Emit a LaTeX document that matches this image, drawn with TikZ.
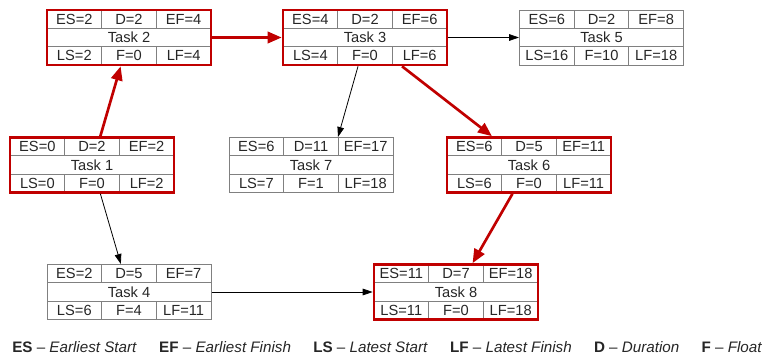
\documentclass[tikz,border=0pt]{standalone}
\usepackage{fontspec}
\setmainfont{Liberation Sans}
\usetikzlibrary{arrows.meta, positioning, calc, backgrounds}
\definecolor{critred}{HTML}{C00000}
\definecolor{boxgray}{HTML}{808080}
\tikzset{
    taskbox/.style={draw=boxgray, rectangle, line width=0.75pt, minimum width=123pt, minimum height=41.25pt, inner sep=0pt, font=\fontsize{11}{13}\selectfont, text=black!85},
    critical/.style={draw=critred, line width=2pt},
    normal/.style={},
    cell/.style={inner sep=0pt, font=\fontsize{11}{13}\selectfont, text=black!85},
    cellline/.style={draw=boxgray, line width=0.75pt},
    arrow/.style={draw, -{Triangle[length=7.5pt, width=5pt]}, line width=0.6pt, color=black},
    critarrow/.style={draw, -{Triangle[length=10.5pt, width=8.5pt]}, line width=2pt, color=critred},
    legend/.style={inner sep=0pt, font=\fontsize{11.4}{14}\selectfont, text=black!85}
}
% task box: style, number, centre, ES, D, EF, LS, F, LF
\newcommand{\pertbox}[9]{%
    \node [taskbox, #1] (t#2) at (#3) {Task #2};
    \begin{scope}[on background layer]
        \draw [cellline] ($(#3)+(-82,-9.17)$) -- ($(#3)+(82,-9.17)$);
        \draw [cellline] ($(#3)+(-82,9.17)$) -- ($(#3)+(82,9.17)$);
        \foreach \cx in {-27.33,27.33} {
            \draw [cellline] ($(#3)+(\cx,-27.5)$) -- ++(0,18.33);
            \draw [cellline] ($(#3)+(\cx,9.17)$) -- ++(0,18.33);
        }
    \end{scope}
    \node [cell] (t#2-es) at ($(#3)+(-54.67,-18.33)$) {ES=#4};
    \node [cell] (t#2-d)  at ($(#3)+(0,-18.33)$) {D=#5};
    \node [cell] (t#2-ef) at ($(#3)+(54.67,-18.33)$) {EF=#6};
    \node [cell] (t#2-ls) at ($(#3)+(-54.67,18.33)$) {LS=#7};
    \node [cell] (t#2-f)  at ($(#3)+(0,18.33)$) {F=#8};
    \node [cell] (t#2-lf) at ($(#3)+(54.67,18.33)$) {LF=#9};
}

\begin{document}
\begin{tikzpicture}[x=0.75pt, y=-0.75pt]
    \useasboundingbox (0,0) rectangle (764,357);

    \pertbox{critical}{1}{92,165}{0}{2}{2}{0}{0}{2}
    \pertbox{critical}{2}{129,37.5}{2}{2}{4}{2}{0}{4}
    \pertbox{critical}{3}{365,37.5}{4}{2}{6}{4}{0}{6}
    \pertbox{normal}{4}{129,292}{2}{5}{7}{6}{4}{11}
    \pertbox{normal}{5}{601.5,37.5}{6}{2}{8}{16}{10}{18}
    \pertbox{critical}{6}{529,165}{6}{5}{11}{6}{0}{11}
    \pertbox{normal}{7}{311,165}{6}{11}{17}{7}{1}{18}
    \pertbox{critical}{8}{456,292}{11}{7}{18}{11}{0}{18}

    \draw [critarrow] (t1) -- (t2);
    \draw [critarrow] (t2) -- (t3);
    \draw [arrow] (t3) -- (t5);
    \draw [arrow] ([xshift=-5.25pt]t3.south) -- ([xshift=20.25pt]t7.north);
    \draw [critarrow] (t3) -- (t6);
    \draw [critarrow] (t6) -- (t8);
    \draw [arrow] (t1) -- (t4);
    \draw [arrow] (t4) -- (t8);

    % legend
    \node [legend, anchor=west] (lges) at (12,347) {\textbf{ES} \textendash\ \textit{Earliest Start}};
    \node [legend, right=16.3pt of lges] (lgef) {\textbf{EF} \textendash\ \textit{Earliest Finish}};
    \node [legend, right=16.3pt of lgef] (lgls) {\textbf{LS} \textendash\ \textit{Latest Start}};
    \node [legend, right=16.3pt of lgls] (lglf) {\textbf{LF} \textendash\ \textit{Latest Finish}};
    \node [legend, right=16.3pt of lglf] (lgd) {\textbf{D} \textendash\ \textit{Duration}};
    \node [legend, right=16.3pt of lgd] (lgf) {\textbf{F} \textendash\ \textit{Float}};
\end{tikzpicture}
\end{document}
